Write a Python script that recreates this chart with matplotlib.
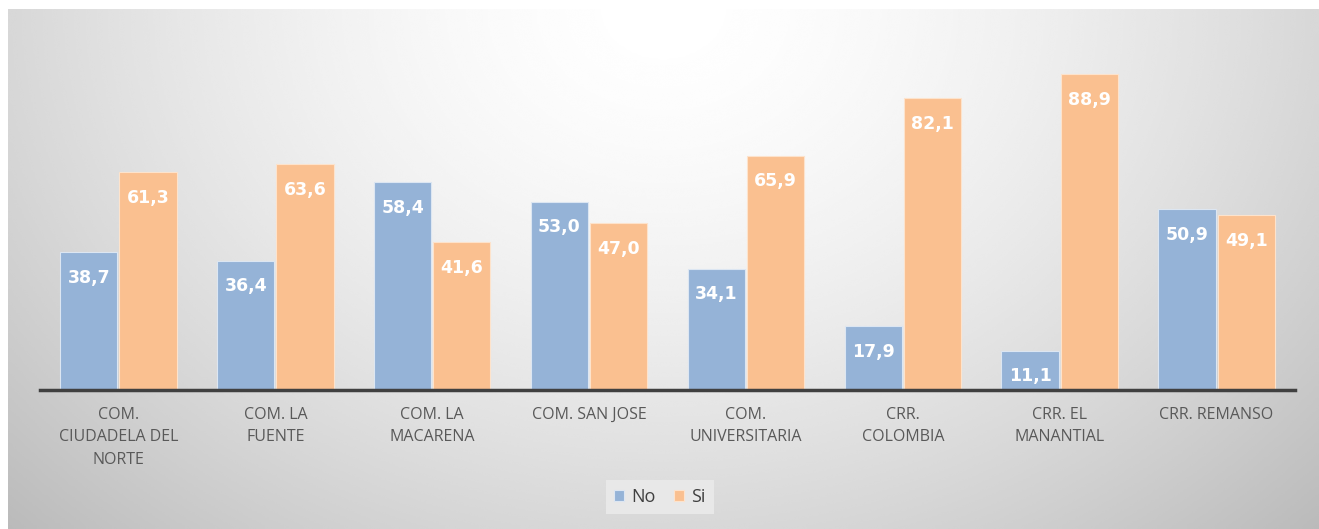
import numpy as np
import matplotlib.pyplot as plt

categories = ['COM.\nCIUDADELA DEL\nNORTE', 'COM. LA\nFUENTE', 'COM. LA\nMACARENA',
              'COM. SAN JOSE', 'COM.\nUNIVERSITARIA', 'CRR.\nCOLOMBIA',
              'CRR. EL\nMANANTIAL', 'CRR. REMANSO']
no_values = [38.7, 36.4, 58.4, 53.0, 34.1, 17.9, 11.1, 50.9]
si_values = [61.3, 63.6, 41.6, 47.0, 65.9, 82.1, 88.9, 49.1]
series_names = ['No', 'Si']

BLUE = '#95b3d7'
ORANGE = '#fac090'

plt.rcParams['font.family'] = ['Open Sans', 'DejaVu Sans']

fig = plt.figure(figsize=(13.19, 5.29), dpi=100)
fig.patch.set_facecolor('white')

# gradient background (chart area), leaving a thin white strip top/left
bg = fig.add_axes([8 / 1319, 0, 1 - 8 / 1319, 1 - 9 / 529], zorder=-10)
yy, xx = np.mgrid[0:1:300j, 0:1:700j]
d = np.sqrt(((xx - 0.5) / 0.62) ** 2 + ((yy - 0.0) / 1.25) ** 2)
shade = 1.0 - 0.22 * np.clip(d, 0, 1.15) ** 1.6
bg.imshow(shade, cmap='gray', vmin=0, vmax=1, aspect='auto',
          extent=[0, 1, 1, 0], interpolation='bicubic')
bg.set_axis_off()

ax = fig.add_axes([40 / 1319, 139 / 529, 1255 / 1319, 355.5 / 529])
ax.patch.set_alpha(0)

x = np.arange(len(categories))
w = 0.365
b1 = ax.bar(x - w / 2 - 0.006, no_values, w, color=BLUE, edgecolor='#dce6f2',
            linewidth=0.8, label=series_names[0])
b2 = ax.bar(x + w / 2 + 0.006, si_values, w, color=ORANGE, edgecolor='#fde3cc',
            linewidth=0.8, label=series_names[1])

# value labels inside the top of each bar
for bars, vals in ((b1, no_values), (b2, si_values)):
    for rect, v in zip(bars, vals):
        ax.annotate(f'{v:.1f}'.replace('.', ','),
                    (rect.get_x() + rect.get_width() / 2, rect.get_height()),
                    xytext=(0, -12), textcoords='offset points',
                    ha='center', va='top', color='white', fontsize=12.5,
                    fontweight='bold', family='DejaVu Sans')

ax.set_xlim(-0.5, len(categories) - 0.5)
ax.set_ylim(0, 100)
ax.set_yticks([])
for s in ['top', 'right', 'left']:
    ax.spines[s].set_visible(False)
ax.spines['bottom'].set_color('#404040')
ax.spines['bottom'].set_linewidth(2.5)
ax.set_xticks(x)
ax.set_xticklabels(categories, fontsize=11.5, color='#595959', linespacing=1.55)
ax.tick_params(axis='x', length=0, pad=12)

leg = fig.legend(handles=[b1, b2], labels=series_names, loc='center',
                 bbox_to_anchor=(660 / 1319, 1 - 497 / 529), ncol=2, frameon=True,
                 fontsize=13, handlelength=0.55, handleheight=0.55,
                 handletextpad=0.4, columnspacing=1.0, borderpad=0.45)
leg.get_frame().set_facecolor('#ececec')
leg.get_frame().set_edgecolor('none')
leg.get_frame().set_alpha(0.8)
leg.get_frame().set_boxstyle('square', pad=0)
for t in leg.get_texts():
    t.set_color('#404040')

fig.savefig('out.png', dpi=100)
